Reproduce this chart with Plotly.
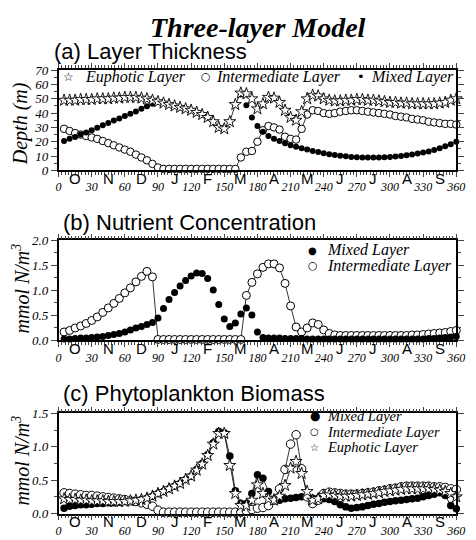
import plotly.graph_objects as go

# ---------------- data (day of model year, 5-day output) ----------------
days = list(range(5, 361, 5))

# (a) layer thickness, m
a_euphotic = [49, 49, 49, 49.5, 49.5, 49.5, 50, 50, 50, 50.5, 50.5, 51,
              51, 51, 50.5, 50, 49, 48, 47, 46, 45, 44, 43, 42,
              40.5, 39, 37, 34, 30, 29, 34, 46, 54, 53.5, 50, 43,
              46.5, 51, 50.5, 47.5, 42, 37, 35, 41, 50, 52.5, 52, 50,
              49, 48.5, 48.5, 49, 49, 49.5, 49.5, 49, 49, 48.5, 48, 47.5,
              47.5, 47, 47, 46.5, 46.5, 46.5, 46.5, 46.5, 47, 47.5, 49, 50]
a_intermediate = [29, 27.5, 26, 25, 24, 23, 22, 20.5, 19, 17.5, 16, 14.5,
                  13, 11, 9, 7, 4.5, 2, 1, 1, 1, 1, 1, 1,
                  1, 1, 1, 1, 1, 1, 1, 1, 9, 13, 13.5, 20,
                  28, 31, 30, 28.5, 23.5, 22, 21.5, 29, 39, 42, 41.5, 40,
                  39.5, 40, 41, 41.5, 42, 42, 41.5, 41, 40.5, 40, 39.5, 39,
                  38, 37.5, 37, 36, 35.5, 35, 34, 33.5, 33, 32.5, 32.5, 32]
a_mixed = [20.5, 22, 23.3, 25, 26.5, 28, 29.8, 31.5, 33, 34.8, 36.3, 38,
           39.5, 41.2, 43, 44.8, 46.5, 48, 47, 46, 45, 44, 43, 42,
           40.5, 39, 37, 34, 30, 29, 34, 46, 53, 45.5, 37, 31,
           27, 24, 22, 20.5, 19, 17.5, 16.5, 15.5, 14.5, 13.5, 12.8, 12,
           11.3, 10.7, 10.2, 9.8, 9.4, 9.1, 9, 9, 9, 9, 9.2, 9.4,
           9.7, 10, 10.5, 11, 11.7, 12.4, 13.2, 14.2, 15.4, 16.8, 18.3, 20]

# (b) nutrient concentration, mmol N/m3
b_mixed = [0.03, 0.03, 0.04, 0.05, 0.05, 0.06, 0.07, 0.08, 0.1, 0.12, 0.14, 0.17,
           0.21, 0.25, 0.28, 0.32, 0.36, 0.45, 0.64, 0.82, 0.96, 1.09, 1.2, 1.29,
           1.35, 1.34, 1.24, 1.01, 0.72, 0.43, 0.28, 0.35, 0.53, 0.65, 0.51, 0.17,
           0.06, 0.05, 0.05, 0.05, 0.04, 0.04, 0.04, 0.04, 0.03, 0.03, 0.03, 0.03,
           0.03, 0.03, 0.03, 0.03, 0.03, 0.03, 0.03, 0.03, 0.03, 0.03, 0.03, 0.03,
           0.03, 0.03, 0.03, 0.03, 0.03, 0.03, 0.04, 0.04, 0.05, 0.06, 0.07, 0.08]
b_intermediate = [0.17, 0.2, 0.25, 0.29, 0.34, 0.4, 0.47, 0.56, 0.65, 0.74, 0.84, 0.95,
                  1.05, 1.17, 1.28, 1.38, 1.27, 0.02, 0.02, 0.02, 0.02, 0.02, 0.02, 0.02,
                  0.02, 0.02, 0.02, 0.02, 0.02, 0.02, 0.02, 0.02, 0.02, 0.9, 1.16, 1.33,
                  1.46, 1.53, 1.53, 1.45, 1.14, 0.69, 0.27, 0.17, 0.25, 0.35, 0.32, 0.21,
                  0.14, 0.11, 0.1, 0.1, 0.1, 0.1, 0.1, 0.1, 0.1, 0.1, 0.1, 0.1,
                  0.1, 0.1, 0.1, 0.11, 0.11, 0.12, 0.13, 0.14, 0.15, 0.16, 0.18, 0.2]

# (c) phytoplankton biomass, mmol N/m3
c_mixed = [0.08, 0.11, 0.12, 0.13, 0.13, 0.14, 0.15, 0.15, 0.16, 0.16, 0.17, 0.18,
           0.19, 0.2, 0.21, 0.23, 0.26, 0.3, 0.33, 0.37, 0.41, 0.45, 0.51, 0.56,
           0.66, 0.75, 0.88, 1.06, 1.23, 1.21, 0.86, 0.34, 0.15, 0.15, 0.3, 0.58,
           0.53, 0.33, 0.2, 0.2, 0.22, 0.23, 0.24, 0.25, 0.25, 0.23, 0.23, 0.22,
           0.21, 0.18, 0.13, 0.1, 0.08, 0.09, 0.1, 0.12, 0.14, 0.15, 0.17, 0.18,
           0.19, 0.2, 0.21, 0.22, 0.23, 0.25, 0.27, 0.29, 0.31, 0.27, 0.12, 0.07]
c_intermediate = [0.31, 0.3, 0.29, 0.28, 0.27, 0.27, 0.26, 0.25, 0.24, 0.23, 0.22, 0.21,
                  0.19, 0.18, 0.16, 0.14, 0.11, 0.05, 0.02, 0.02, 0.02, 0.02, 0.02, 0.02,
                  0.02, 0.02, 0.02, 0.02, 0.02, 0.02, 0.02, 0.02, 0.02, 0.04, 0.06, 0.08,
                  0.09, 0.12, 0.2, 0.37, 0.66, 1.04, 1.18, 0.67, 0.25, 0.15, 0.2, 0.3,
                  0.32, 0.31, 0.3, 0.29, 0.29, 0.29, 0.3, 0.31, 0.32, 0.34, 0.35, 0.37,
                  0.38, 0.4, 0.41, 0.41, 0.41, 0.41, 0.41, 0.4, 0.4, 0.39, 0.37, 0.36]
c_euphotic = [0.22, 0.21, 0.21, 0.2, 0.2, 0.19, 0.19, 0.19, 0.18, 0.18, 0.18, 0.18,
              0.19, 0.2, 0.21, 0.23, 0.26, 0.3, 0.33, 0.37, 0.41, 0.45, 0.51, 0.56,
              0.65, 0.74, 0.87, 1.04, 1.2, 1.2, 0.72, 0.3, 0.12, 0.12, 0.2, 0.43,
              0.3, 0.22, 0.2, 0.26, 0.42, 0.68, 0.78, 0.6, 0.33, 0.2, 0.22, 0.27,
              0.28, 0.27, 0.26, 0.26, 0.26, 0.27, 0.28, 0.29, 0.3, 0.31, 0.33, 0.34,
              0.35, 0.36, 0.37, 0.37, 0.37, 0.37, 0.37, 0.36, 0.35, 0.33, 0.3, 0.25]

day_ticks = list(range(0, 361, 30))
month_pos = list(range(15, 360, 30))
month_labels = ["O", "N", "D", "J", "F", "M", "A", "M", "J", "J", "A", "S"]

# ---------------- style ----------------
W, H = 476, 540
SERIF = "Liberation Serif"
SANS = "Liberation Sans"
SYM = "DejaVu Sans"
X0, X1 = 57, 465
PANELS = {"a": (65, 168), "b": (240, 343), "c": (418, 521)}


def px(x):
    return x / W


def py(y):
    return 1 - y / H


fig = go.Figure()

LW = 0.8


def dots(x, y, xa, ya, size=6, line=False):
    return go.Scatter(x=x, y=y, xaxis=xa, yaxis=ya,
                      mode="lines+markers" if line else "markers",
                      line=dict(color="black", width=LW),
                      marker=dict(symbol="circle", size=size, color="black"),
                      cliponaxis=False, showlegend=False)


def circles(x, y, xa, ya, size=7.5, line=True):
    return go.Scatter(x=x, y=y, xaxis=xa, yaxis=ya,
                      mode="lines+markers" if line else "markers",
                      line=dict(color="black", width=LW),
                      marker=dict(symbol="circle", size=size, color="white",
                                  line=dict(color="black", width=1)),
                      cliponaxis=False, showlegend=False)


def stars(x, y, xa, ya, size=9, line=True):
    return go.Scatter(x=x, y=y, xaxis=xa, yaxis=ya,
                      mode="lines+markers" if line else "markers",
                      line=dict(color="black", width=LW),
                      marker=dict(symbol="star", size=size, color="white",
                                  line=dict(color="black", width=0.9)),
                      cliponaxis=False, showlegend=False)


# panel (a)
fig.add_trace(circles(days, a_intermediate, "x", "y", 7.5))
fig.add_trace(dots(days, a_mixed, "x", "y", 6))
fig.add_trace(stars(days, a_euphotic, "x", "y", 9))
# panel (b)
fig.add_trace(circles(days, b_intermediate, "x2", "y2", 8))
fig.add_trace(dots(days, b_mixed, "x2", "y2", 7))
# panel (c)
fig.add_trace(dots(days, c_mixed, "x3", "y3", 7.5, line=True))
fig.add_trace(circles(days, c_intermediate, "x3", "y3", 8.5))
fig.add_trace(stars(days, c_euphotic, "x3", "y3", 9))

layout = dict(width=W, height=H, margin=dict(l=0, r=0, t=0, b=0),
              paper_bgcolor="white", plot_bgcolor="white", autosize=False)

yranges = {"a": ([0, 70], 10, 5, None),
           "b": ([0, 2.0], 0.5, 0.25, ".1f"),
           "c": ([0, 1.5], 0.5, 0.25, ".1f")}

for i, key in enumerate(["a", "b", "c"]):
    sfx = "" if i == 0 else str(i + 1)
    top, bot = PANELS[key]
    layout["xaxis" + sfx] = dict(
        domain=[px(X0), px(X1)], anchor="y" + sfx, range=[0, 360],
        tickvals=day_ticks, ticks="outside", ticklen=5, tickwidth=1,
        showline=True, linewidth=1.5, linecolor="black", mirror="ticks",
        showgrid=False, zeroline=False,
        tickfont=dict(family=SERIF, size=12, color="black", style="italic"),
        minor=dict(ticks="outside", ticklen=3, tickwidth=0.8, dtick=3, tick0=0,
                   showgrid=False),
    )
    rng, dt, mdt, fmt = yranges[key]
    ya = dict(
        domain=[py(bot), py(top)], anchor="x" + sfx, range=rng, dtick=dt,
        ticks="outside", ticklen=6, tickwidth=1,
        showline=True, linewidth=1.5, linecolor="black", mirror="ticks",
        showgrid=False, zeroline=False,
        tickfont=dict(family=SERIF, size=13, color="black", style="italic"),
        minor=dict(ticks="outside", ticklen=3, tickwidth=0.8, dtick=mdt,
                   showgrid=False),
    )
    if fmt:
        ya["tickformat"] = fmt
    layout["yaxis" + sfx] = ya

fig.update_layout(**layout)

ann = []


def text(x, y, s, size, family=SERIF, anchor="left", angle=0, italic=False):
    ann.append(dict(xref="paper", yref="paper", x=px(x), y=py(y), text=s,
                    showarrow=False, xanchor=anchor, yanchor="middle",
                    textangle=angle,
                    font=dict(family=family, size=size, color="black",
                              style="italic" if italic else "normal")))


# title and panel headings
text(262, 21, "<b><i>Three-layer Model</i></b>", 28, SERIF, "center")
text(50, 46, "(a) Layer Thickness", 22, SANS)
text(60, 222, "(b) Nutrient Concentration", 22, SANS)
text(60, 398, "(c) Phytoplankton Biomass", 22, SANS)

# y-axis titles
text(18, 120, "Depth (m)", 20, SERIF, "center", -90, italic=True)
text(18, 290, "mmol N/m<sup>3</sup>", 20, SERIF, "center", -90, italic=True)
text(18, 467, "mmol N/m<sup>3</sup>", 20, SERIF, "center", -90, italic=True)

# month letters under each axis
for i, key in enumerate(["a", "b", "c"]):
    xr = "x" if i == 0 else "x" + str(i + 1)
    top, bot = PANELS[key]
    for m, lab in zip(month_pos, month_labels):
        ann.append(dict(xref=xr, yref="paper", x=m, y=py(bot + 8), text=lab,
                        showarrow=False, xanchor="center", yanchor="middle",
                        font=dict(family=SANS, size=15, color="black")))

# legends
LF = 16
text(67, 72, "☆", 12, SYM, "center")
text(82, 72, "Euphotic Layer", LF, italic=True)
text(208, 72, "○", 11, SYM, "center")
text(216, 72, "Intermediate Layer", LF, italic=True)
text(367, 72, "•", 13, SYM, "center")
text(375, 72, "Mixed Layer", LF, italic=True)

text(318, 250, "●", 10, SYM, "center")
text(330, 250, "Mixed Layer", LF, italic=True)
text(318, 266, "○", 11, SYM, "center")
text(330, 266, "Intermediate Layer", LF, italic=True)

LC = 14.5
text(320, 421, "●", 12, SYM, "center")
text(330, 421, "Mixed Layer", LC, italic=True)
text(320, 437, "○", 10, SYM, "center")
text(330, 437, "Intermediate Layer", LC, italic=True)
text(320, 453, "☆", 10, SYM, "center")
text(330, 453, "Euphotic Layer", LC, italic=True)

fig.update_layout(annotations=ann)

fig.write_html("out.html")
